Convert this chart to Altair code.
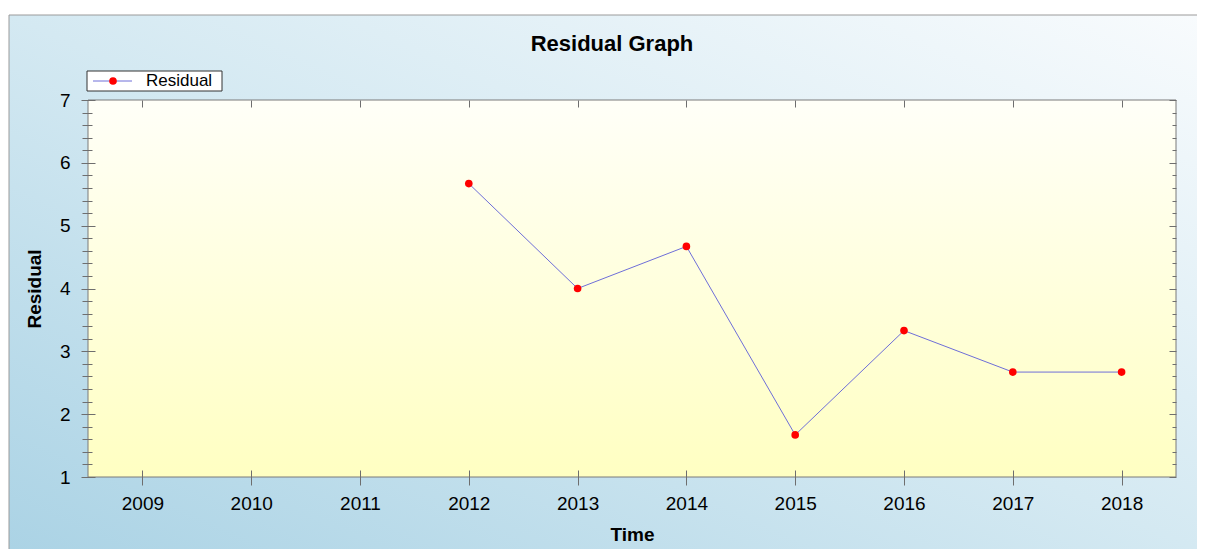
import altair as alt
import pandas as pd

# ---- data ----
YEARS = [2012, 2013, 2014, 2015, 2016, 2017, 2018]
RESIDUALS = [5.67, 4.0, 4.67, 1.67, 3.33, 2.67, 2.67]
SERIES = ["Residual"]
X_TICKS = [2009, 2010, 2011, 2012, 2013, 2014, 2015, 2016, 2017, 2018]
X_DOMAIN = [2008.5, 2018.5]
Y_TICKS = [1, 2, 3, 4, 5, 6, 7]
Y_DOMAIN = [1, 7]
Y_MINOR = [round(v / 5, 1) for v in range(5, 36) if v % 5]
TITLE = ["Residual Graph"]
X_TITLE = "Time"
Y_TITLE = "Residual"

# ---- layout / style ----
W, H = 1088, 377
PAD_R = 21
FONT = "Liberation Sans"
TICK_COLOR = "#6e6e6e"
LINE_COLOR = "#6e6ed8"
DOT_COLOR = "#ff0000"
FRAME_COLOR = "#9a9a9a"

df = pd.DataFrame({"Time": YEARS, "Residual": RESIDUALS, "series": SERIES * len(YEARS)})
one = pd.DataFrame({"label": SERIES})
title_df = pd.DataFrame({"t": TITLE})

xscale = alt.Scale(domain=X_DOMAIN, nice=False, zero=False)
yscale = alt.Scale(domain=Y_DOMAIN, nice=False, zero=False)


def ax(**kw):
    base = dict(domain=False, grid=False, tickColor=TICK_COLOR, tickWidth=1, zindex=1,
                labelFont=FONT, titleFont=FONT, labelColor="black", titleColor="black",
                labelFlush=False, labelOverlap=False)
    base.update(kw)
    return alt.Axis(**base)


outer_bg = alt.Chart(one).mark_rect(
    fill=alt.Gradient(
        gradient="linear",
        stops=[alt.GradientStop(color="#abd3e5", offset=0),
               alt.GradientStop(color="#d4e9f2", offset=0.5),
               alt.GradientStop(color="#f8fbfd", offset=1)],
        x1=0, y1=1, x2=1, y2=0),
).encode(x=alt.value(-79), x2=alt.value(W + PAD_R), y=alt.value(-85), y2=alt.value(H + 72))

frame_top = alt.Chart(one).mark_rule(color=FRAME_COLOR, strokeWidth=1).encode(
    x=alt.value(-79), x2=alt.value(W + PAD_R), y=alt.value(-85))
frame_left = alt.Chart(one).mark_rule(color=FRAME_COLOR, strokeWidth=1).encode(
    x=alt.value(-79), y=alt.value(-85), y2=alt.value(H + 72))

plot_bg = alt.Chart(one).mark_rect(
    fill=alt.Gradient(
        gradient="linear",
        stops=[alt.GradientStop(color="#fffff8", offset=0),
               alt.GradientStop(color="#ffffc2", offset=1)],
        x1=0, y1=0, x2=0, y2=1),
    stroke="#7a7a7a", strokeWidth=1,
).encode(x=alt.value(0), x2=alt.value(W), y=alt.value(0), y2=alt.value(H))

line = alt.Chart(df).mark_line(color=LINE_COLOR, strokeWidth=1).encode(
    x=alt.X("Time:Q", scale=xscale,
            axis=ax(orient="bottom", values=X_TICKS, format="d", offset=-7, tickSize=15,
                    labelFontSize=19, labelPadding=24, labelBaseline="alphabetic",
                    title=X_TITLE, titleFontSize=19, titleFontWeight="bold",
                    titleX=W / 2, titleY=70, titleBaseline="alphabetic", titleAlign="center")),
    y=alt.Y("Residual:Q", scale=yscale,
            axis=ax(orient="left", values=Y_TICKS, offset=-7, tickSize=14,
                    labelFontSize=19, labelPadding=11,
                    title=Y_TITLE, titleFontSize=19, titleFontWeight="bold",
                    titleX=-55, titleY=H / 2, titleBaseline="alphabetic",
                    titleAlign="center", titleAngle=270)),
)

points = alt.Chart(df).mark_point(filled=True, color=DOT_COLOR, size=58, opacity=1).encode(
    x=alt.X("Time:Q", scale=xscale,
            axis=ax(orient="top", values=X_TICKS, offset=-7, tickSize=7, labels=False, title=None)),
    y=alt.Y("Residual:Q", scale=yscale,
            axis=ax(orient="right", values=Y_TICKS, offset=-7, tickSize=7, labels=False, title=None)),
)

minor_left = alt.Chart(df).mark_point(opacity=0).encode(
    x=alt.X("Time:Q", scale=xscale, axis=None),
    y=alt.Y("Residual:Q", scale=yscale,
            axis=ax(orient="left", values=Y_MINOR, offset=-4, tickSize=10, labels=False, title=None)),
)

minor_right = alt.Chart(df).mark_point(opacity=0).encode(
    x=alt.X("Time:Q", scale=xscale, axis=None),
    y=alt.Y("Residual:Q", scale=yscale,
            axis=ax(orient="right", values=Y_MINOR, offset=-4, tickSize=4, labels=False, title=None)),
)

legend_box = alt.Chart(one).mark_rect(fill="white", stroke="#333333", strokeWidth=1).encode(
    x=alt.value(-1), x2=alt.value(134), y=alt.value(-29), y2=alt.value(-9))
legend_line = alt.Chart(one).mark_rule(color=LINE_COLOR, strokeWidth=1).encode(
    x=alt.value(5), x2=alt.value(44), y=alt.value(-19))
legend_dot = alt.Chart(one).mark_point(filled=True, color=DOT_COLOR, size=58, opacity=1).encode(
    x=alt.value(25), y=alt.value(-19))
legend_text = alt.Chart(one).mark_text(font=FONT, fontSize=17, align="left", baseline="middle",
                                       color="black").encode(
    x=alt.value(58), y=alt.value(-19), text="label:N")

title = alt.Chart(title_df).mark_text(font=FONT, fontSize=22, fontWeight="bold", align="center",
                                      baseline="alphabetic", color="black").encode(
    x=alt.value(W / 2 - 20), y=alt.value(-49), text="t:N")

chart = alt.layer(
    outer_bg, frame_top, frame_left, plot_bg, line, points, minor_left, minor_right,
    legend_box, legend_line, legend_dot, legend_text, title,
).resolve_axis(x="independent", y="independent").properties(
    width=W, height=H,
    autosize=alt.AutoSizeParams(type="none"),
    padding={"left": 80, "top": 92, "right": PAD_R, "bottom": 72},
    background="white",
).configure_view(strokeWidth=0)

chart.save("out.html", embed_options={"renderer": "svg", "actions": False})
